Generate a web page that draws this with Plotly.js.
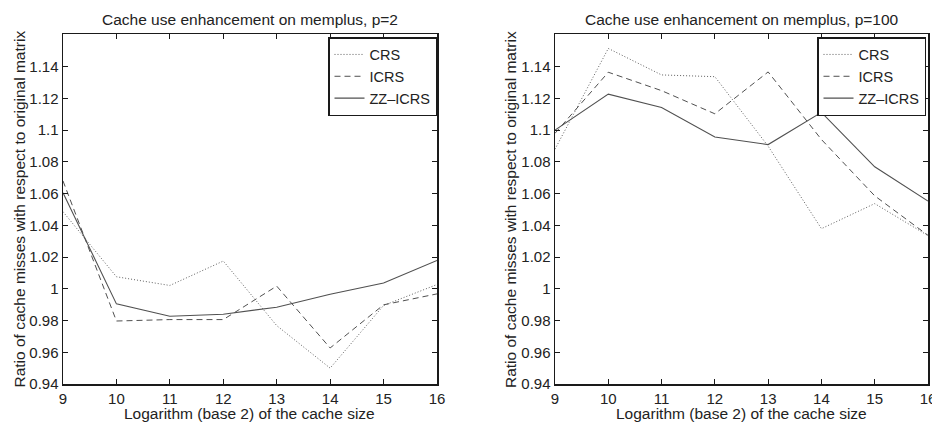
<!DOCTYPE html>
<html>
<head>
<meta charset="utf-8">
<script src="https://cdn.plot.ly/plotly-3.0.1.min.js"></script>
<style>html,body{margin:0;padding:0;background:#fff;}#chart{width:932px;height:424px;}</style>
</head>
<body>
<div id="chart"></div>
<script>
// Data
var cacheLog2 = [9, 10, 11, 12, 13, 14, 15, 16];
var seriesNames = ["CRS", "ICRS", "ZZ\u2013ICRS"];

var crsP2  = [1.0486, 1.0076, 1.0021, 1.0175, 0.9768, 0.9500, 0.9895, 1.0027];
var icrsP2 = [1.0680, 0.9797, 0.9806, 0.9806, 1.0017, 0.9627, 0.9899, 0.9968];
var zzP2   = [1.0605, 0.9905, 0.9827, 0.9840, 0.9884, 0.9966, 1.0036, 1.0179];

var crsP100  = [1.0880, 1.1515, 1.1348, 1.1337, 1.0899, 1.0379, 1.0537, 1.0335];
var icrsP100 = [1.0980, 1.1365, 1.1249, 1.1103, 1.1367, 1.0941, 1.0586, 1.0337];
var zzP100   = [1.1000, 1.1227, 1.1143, 1.0957, 1.0909, 1.1112, 1.0769, 1.0553];

var yTickVals = [0.94, 0.96, 0.98, 1.00, 1.02, 1.04, 1.06, 1.08, 1.10, 1.12, 1.14];
var yTickText = ["0.94", "0.96", "0.98", "1", "1.02", "1.04", "1.06", "1.08", "1.1", "1.12", "1.14"];
var xTickVals = [9, 10, 11, 12, 13, 14, 15, 16];
var xTickText = ["9", "10", "11", "12", "13", "14", "15", "16"];

var titleP2 = "Cache use enhancement on memplus, p=2";
var titleP100 = "Cache use enhancement on memplus, p=100";
var xTitle = "Logarithm (base 2) of the cache size";
var yTitle = "Ratio of cache misses with respect to original matrix";

// Figure
var W = 932, H = 424;
var FONT = "Liberation Sans, Arial, Helvetica, sans-serif";
var TXT = "#222";
var LINE = "#505050";
var styles = [
  {dash: "1px,2px", width: 1, color: "#606060"},
  {dash: "6px,4px", width: 1, color: LINE},
  {dash: "solid", width: 1.1, color: LINE}
];

function mk(y, i, xa, ya, leg) {
  return {
    x: cacheLog2, y: y, type: "scatter", mode: "lines",
    name: seriesNames[i], xaxis: xa, yaxis: ya, legend: leg,
    line: {color: styles[i].color, width: styles[i].width, dash: styles[i].dash}
  };
}

var data = [
  mk(crsP2, 0, "x", "y", "legend"),
  mk(icrsP2, 1, "x", "y", "legend"),
  mk(zzP2, 2, "x", "y", "legend"),
  mk(crsP100, 0, "x2", "y2", "legend2"),
  mk(icrsP100, 1, "x2", "y2", "legend2"),
  mk(zzP100, 2, "x2", "y2", "legend2")
];

function px2x(p) { return p / W; }
function px2y(p) { return (H - p) / H; }

var yDom = [px2y(384), px2y(34)];
var axCommon = {
  showline: true, linecolor: "#1a1a1a", linewidth: 1.5, mirror: "ticks",
  ticks: "inside", ticklen: 5, tickwidth: 1, tickcolor: "#1a1a1a",
  showgrid: false, zeroline: false, ticklabeloverflow: "allow",
  tickfont: {family: FONT, size: 15, color: TXT}
};
function xa(domain, anchor) {
  return Object.assign({}, axCommon, {
    domain: domain, anchor: anchor, range: [9, 16],
    tickmode: "array", tickvals: xTickVals, ticktext: xTickText
  });
}
function ya(anchor) {
  return Object.assign({}, axCommon, {
    domain: yDom, anchor: anchor, range: [0.94, 1.1606],
    tickmode: "array", tickvals: yTickVals, ticktext: yTickText
  });
}

var legCommon = {
  bgcolor: "#fff", bordercolor: "#1a1a1a", borderwidth: 1.5,
  font: {family: FONT, size: 14.5, color: TXT},
  xanchor: "right", yanchor: "top", itemwidth: 30, tracegroupgap: 0
};

var annFont = {family: FONT, size: 15.5, color: TXT};
var titleFont = {family: FONT, size: 15.5, color: TXT};
var annotations = [
  {text: titleP2, x: px2x(250), y: px2y(20), xref: "paper", yref: "paper", showarrow: false, xanchor: "center", yanchor: "middle", font: titleFont},
  {text: titleP100, x: px2x(741.5), y: px2y(20), xref: "paper", yref: "paper", showarrow: false, xanchor: "center", yanchor: "middle", font: titleFont},
  {text: xTitle, x: px2x(250), y: px2y(413), xref: "paper", yref: "paper", showarrow: false, xanchor: "center", yanchor: "middle", font: annFont},
  {text: xTitle, x: px2x(741.5), y: px2y(413), xref: "paper", yref: "paper", showarrow: false, xanchor: "center", yanchor: "middle", font: annFont},
  {text: yTitle, x: px2x(18.5), y: px2y(209), xref: "paper", yref: "paper", showarrow: false, textangle: -90, xanchor: "center", yanchor: "middle", font: annFont},
  {text: yTitle, x: px2x(510), y: px2y(209), xref: "paper", yref: "paper", showarrow: false, textangle: -90, xanchor: "center", yanchor: "middle", font: annFont}
];

var layout = {
  width: W, height: H,
  margin: {l: 0, r: 0, t: 0, b: 0, pad: 0},
  paper_bgcolor: "#fff", plot_bgcolor: "#fff",
  showlegend: true,
  font: {family: FONT, color: TXT},
  xaxis: xa([px2x(63), px2x(437)], "y"),
  yaxis: ya("x"),
  xaxis2: xa([px2x(555), px2x(928)], "y2"),
  yaxis2: ya("x2"),
  legend: Object.assign({}, legCommon, {x: px2x(437), y: px2y(37)}),
  legend2: Object.assign({}, legCommon, {x: px2x(926), y: px2y(37)}),
  annotations: annotations
};

Plotly.newPlot("chart", data, layout, {staticPlot: true, displayModeBar: false});
</script>
</body>
</html>
